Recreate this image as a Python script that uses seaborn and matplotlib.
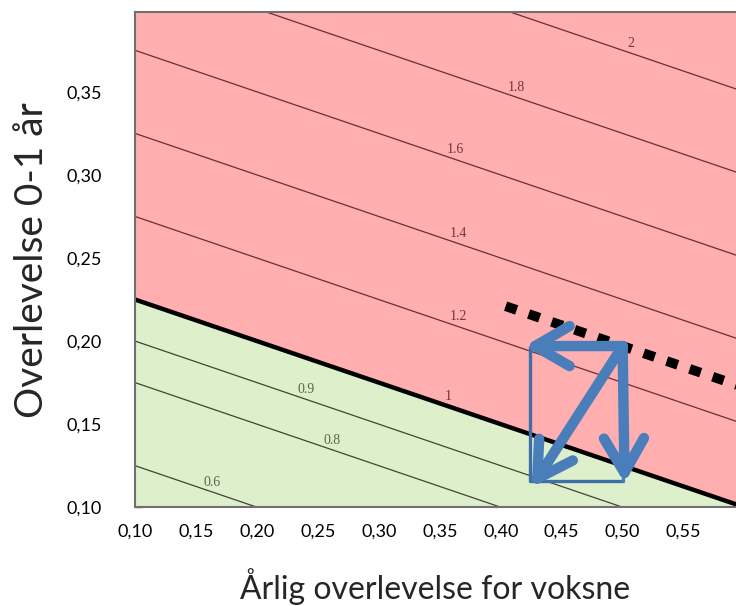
import numpy as np
import matplotlib
matplotlib.use('Agg')
import matplotlib.pyplot as plt
import seaborn as sns

# Populasjonsvekst: lambda = voksen overlevelse + fekunditet * overlevelse 0-1 år
fecundity = 4.0
x_range = [0.10, 0.593]      # årlig overlevelse for voksne
y_range = [0.10, 0.398]      # overlevelse 0-1 år
x_ticks = [0.10, 0.15, 0.20, 0.25, 0.30, 0.35, 0.40, 0.45, 0.50, 0.55]
y_ticks = [0.10, 0.15, 0.20, 0.25, 0.30, 0.35]

thin_levels = [0.6, 0.8, 0.9, 1.2, 1.4, 1.6, 1.8, 2.0]
label_levels = [0.6, 0.8, 0.9, 1.0, 1.2, 1.4, 1.6, 1.8, 2.0]
label_texts = ["0.6", "0.8", "0.9", "1", "1.2", "1.4", "1.6", "1.8", "2"]
label_x = [0.163, 0.262, 0.240, 0.357, 0.365, 0.365, 0.363, 0.413, 0.507]

# scenario: startpunkt og to alternative endringer
start_pt = (0.50, 0.197)
adult_low = 0.424
juv_low = 0.1155

sns.set_theme(style="white")
plt.rcParams['font.family'] = ['Lato', 'DejaVu Sans']

fig = plt.figure(figsize=(7.36, 6.06), dpi=100)
ax = fig.add_axes([0.1835, 0.163, 0.8165, 0.817])

xs = np.linspace(0.09, 0.62, 300)
ys = np.linspace(0.09, 0.42, 300)
X, Y = np.meshgrid(xs, ys)
L = X + fecundity * Y

ax.contourf(X, Y, L, levels=[-10, 1, 10], colors=["#DDEFCB", "#FFAFAF"])
red_lv = [v for v in thin_levels if v > 1]
green_lv = [v for v in thin_levels if v < 1]
ax.contour(X, Y, L, levels=red_lv, colors="#6A3030", linewidths=0.9)
ax.contour(X, Y, L, levels=green_lv, colors="#3E4636", linewidths=0.9)
ax.contour(X, Y, L, levels=[1.0], colors="black", linewidths=3.2)

for lv, txt, lx in zip(label_levels, label_texts, label_x):
    ly = (lv - lx) / fecundity + 0.002
    col = "#7A3434" if lv >= 1 else "#5A6650"
    ax.text(lx, ly, txt, fontsize=10, family="Liberation Serif", color=col,
            ha="center", va="bottom")

# stiplet linje gjennom startpunktet (samme lambda)
lam0 = start_pt[0] + fecundity * start_pt[1]
dot_x = np.array([0.404, 0.600])
dot_y = (lam0 - dot_x) / fecundity
sns.lineplot(x=dot_x, y=dot_y, ax=ax, color="black", lw=7,
             linestyle=(0, (1.2, 1.3)), dash_capstyle="butt")

blue = "#4A7EBB"
# tynt rektangel
ax.plot([adult_low, adult_low, start_pt[0]], [start_pt[1], juv_low, juv_low],
        color="#3F6FA8", lw=2.4, solid_capstyle="butt")
ax.plot([start_pt[0], start_pt[0]], [start_pt[1], juv_low], color=blue, lw=2.4)

targets = [(0.4197, start_pt[1]), (0.4254, 0.112), (0.5016, 0.1145)]
for tx, ty in targets:
    ax.annotate("", xy=(tx, ty), xytext=start_pt,
                arrowprops=dict(arrowstyle="->,head_length=0.62,head_width=0.36",
                                color=blue, lw=7.5, capstyle="round",
                                joinstyle="round", shrinkA=0, shrinkB=0,
                                mutation_scale=40))

ax.set_xlim(x_range)
ax.set_ylim(y_range)
ax.set_xticks(x_ticks)
ax.set_yticks(y_ticks)
ax.set_xticklabels([f"{v:.2f}".replace(".", ",") for v in x_ticks])
ax.set_yticklabels([f"{v:.2f}".replace(".", ",") for v in y_ticks])
ax.tick_params(direction="in", length=5, width=1, color="#555555",
               labelsize=13, labelcolor="black")
ax.tick_params(axis="y", pad=24, left=True)
ax.tick_params(axis="x", pad=12, bottom=True)
for s in ["left", "top", "bottom"]:
    ax.spines[s].set_color("#707070")
    ax.spines[s].set_linewidth(1.5)
ax.spines["right"].set_visible(False)

ax.set_xlabel("Årlig overlevelse for voksne", fontsize=23, labelpad=20)
ax.set_ylabel("Overlevelse 0-1 år", fontsize=28, labelpad=12)
ax.grid(False)

fig.savefig("out.png", dpi=100)
